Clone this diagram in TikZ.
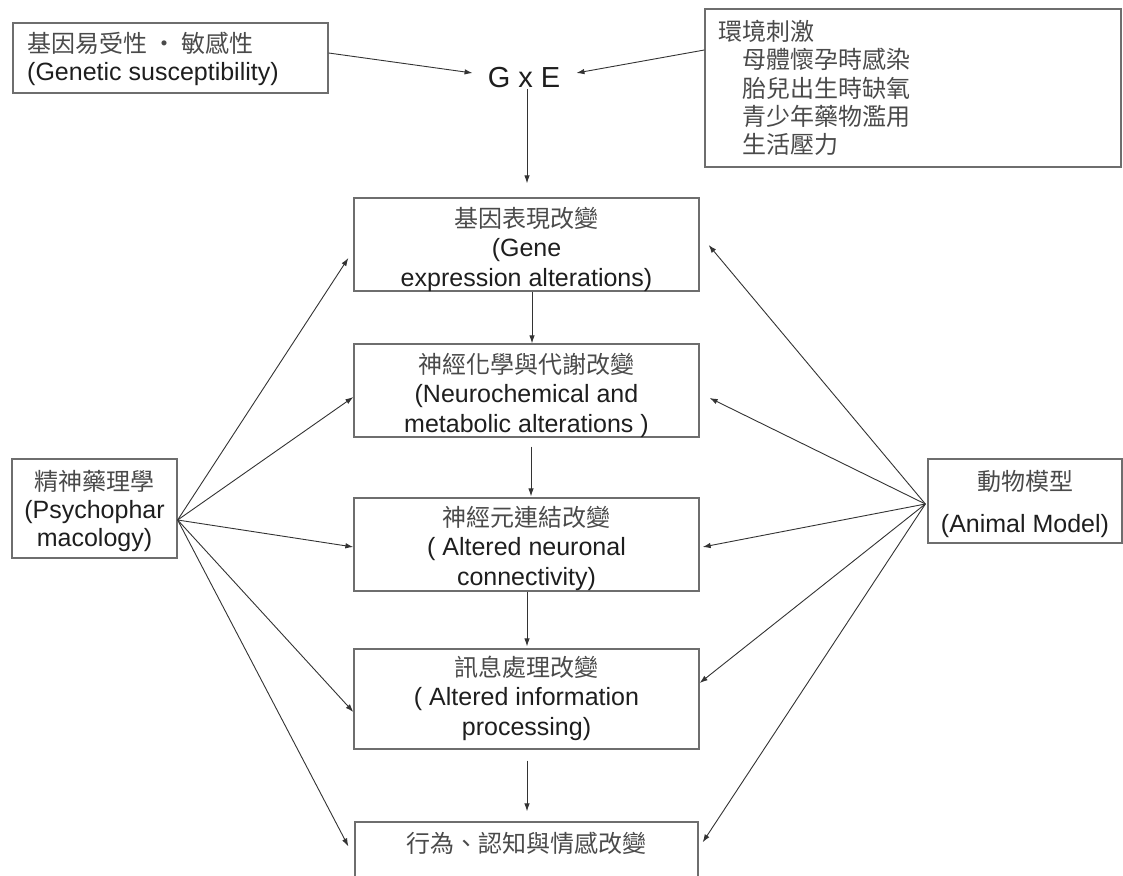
\documentclass[tikz,border=0pt]{standalone}
\usepackage{fontspec}
\setmainfont{Liberation Sans}
\newfontfamily\cjk{Noto Sans CJK TC}
\usetikzlibrary{arrows.meta,calc}
\definecolor{linegray}{HTML}{333333}
\definecolor{boxgray}{HTML}{6E6E6E}
\definecolor{zhgray}{HTML}{4A4A4A}
\definecolor{engray}{HTML}{1E1E1E}
\newcommand{\zh}[1]{{\cjk\fontsize{24}{29}\selectfont\color{zhgray}#1}}
\begin{document}
\begin{tikzpicture}[x=1pt,y=-1pt,
  box/.style={draw=boxgray,line width=1.3pt,inner sep=0pt},
  txt/.style={align=center,inner sep=0pt,text=engray,font=\fontsize{25}{29.5}\selectfont},
  arr/.style={draw=linegray,line width=0.9pt,-{Latex[length=8pt,width=5.5pt]}}
]
\useasboundingbox (0,0) rectangle (1123,875);
\clip (0,0) rectangle (1123,875);

% top boxes
\node[box,minimum width=315pt,minimum height=70pt] (gb) at (170.5,58) {};
\node[txt,align=left,anchor=west,font=\fontsize{25}{28}\selectfont] (gbt) at (27,59) {\zh{基因易受性 · 敏感性}\\(Genetic susceptibility)};

\node[inner sep=0pt,text=engray,font=\fontsize{29}{30}\selectfont] (gxe) at (524,77.5) {G x E};

\node[box,minimum width=416pt,minimum height=158pt] (eb) at (913,88) {};
\node[txt,align=left,anchor=west,font=\fontsize{25}{28.25}\selectfont] (ebt) at (718,88)
  {\zh{環境刺激}\\\hspace*{24pt}\zh{母體懷孕時感染}\\\hspace*{24pt}\zh{胎兒出生時缺氧}\\\hspace*{24pt}\zh{青少年藥物濫用}\\\hspace*{24pt}\zh{生活壓力}};

% central chain
\node[box,minimum width=345pt,minimum height=93pt] (b1) at (526.5,244.5) {};
\node[txt] (t1) at (526.5,249) {\zh{基因表現改變}\\(Gene\\expression alterations)};

\node[box,minimum width=345pt,minimum height=93pt] (b2) at (526.5,390.5) {};
\node[txt] (t2) at (526.5,395) {\zh{神經化學與代謝改變}\\(Neurochemical and\\metabolic alterations )};

\node[box,minimum width=345pt,minimum height=93pt] (b3) at (526.5,544.5) {};
\node[txt] (t3) at (526.5,548) {\zh{神經元連結改變}\\( Altered neuronal\\connectivity)};

\node[box,minimum width=345pt,minimum height=100pt] (b4) at (526.5,699) {};
\node[txt] (t4) at (526.5,698) {\zh{訊息處理改變}\\( Altered information\\processing)};

\node[box,minimum width=343pt,minimum height=90pt] (b5) at (526.5,867) {};
\node[txt] (t5) at (526.5,843) {\zh{行為、認知與情感改變}};

% side boxes
\node[box,minimum width=165pt,minimum height=99pt] (lb) at (94.5,508.5) {};
\node[txt,font=\fontsize{25}{28}\selectfont] (lbt) at (94.5,511) {\zh{精神藥理學}\\(Psychophar\\macology)};

\node[box,minimum width=194pt,minimum height=84pt] (rb) at (1025,501) {};
\node[txt,font=\fontsize{25}{42}\selectfont] (rbt) at (1025,504) {\zh{動物模型}\\(Animal Model)};

% top connectors
\draw[arr] ($(gb.east)+(0,-5)$) -- ($(gxe.west)+(-15,-4.5)$);
\draw[arr] ($(eb.west)+(0,-38)$) -- ($(gxe.east)+(16,-4.5)$);
\draw[arr] ($(gxe.south)+(3,1)$) -- ($(b1.north)+(0.5,-14)$);

% chain connectors
\draw[arr] ($(b1.south)+(5.5,0)$) -- ($(b2.north)+(5.5,0)$);
\draw[arr] ($(b2.south)+(4.5,9)$) -- ($(b3.north)+(4.5,-1)$);
\draw[arr] ($(b3.south)+(0.5,0)$) -- ($(b4.north)+(0.5,-2)$);
\draw[arr] ($(b4.south)+(0.5,11)$) -- ($(b5.north)+(0.5,-10)$);

% fan connectors
\coordinate (lo) at ($(lb.east)+(0,11.5)$);
\coordinate (ro) at ($(rb.west)+(-2,3)$);
\draw[arr] (lo) -- ($(b1.west)+(-5,13.5)$);
\draw[arr] (lo) -- ($(b2.west)+(0,6.5)$);
\draw[arr] (lo) -- ($(b3.west)+(0,2.5)$);
\draw[arr] (lo) -- ($(b4.west)+(0,13)$);
\draw[arr] (lo) -- ($(b5.north west)+(-6,25)$);

\draw[arr] (ro) -- ($(b1.east)+(9,0.5)$);
\draw[arr] (ro) -- ($(b2.east)+(10,7.5)$);
\draw[arr] (ro) -- ($(b3.east)+(3,2.5)$);
\draw[arr] (ro) -- ($(b4.east)+(0,-16)$);
\draw[arr] (ro) -- ($(b5.north east)+(4,21)$);
\end{tikzpicture}
\end{document}
